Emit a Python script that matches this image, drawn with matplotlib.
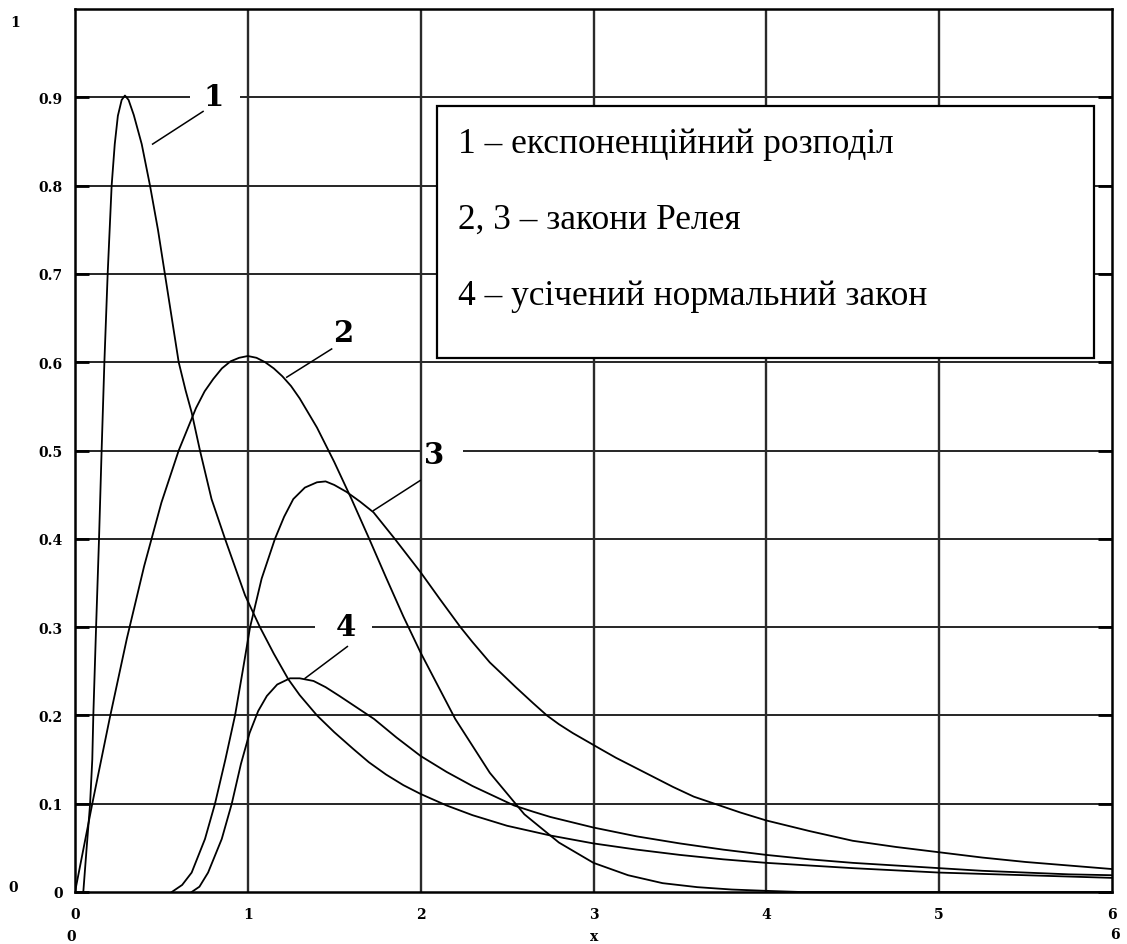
import matplotlib
matplotlib.use("Agg")
import matplotlib.pyplot as plt
from matplotlib.patches import Rectangle

# --- curve data -----------------------------------------------------------
# 1: exponential-type density
x1 = [0.048, 0.067, 0.087, 0.100, 0.106, 0.122, 0.139, 0.154, 0.170, 0.189,
      0.212, 0.230, 0.248, 0.270, 0.289, 0.310, 0.340, 0.386, 0.434, 0.480,
      0.520, 0.560, 0.600, 0.640, 0.675, 0.723, 0.790, 0.868, 0.984, 1.070,
      1.150, 1.234, 1.300, 1.400, 1.500, 1.610, 1.700, 1.800, 1.900, 2.000,
      2.150, 2.300, 2.500, 2.750, 3.000, 3.250, 3.500, 3.750, 4.000, 4.500,
      5.000, 5.500, 6.000]
y1 = [0.000, 0.049, 0.099, 0.150, 0.200, 0.300, 0.400, 0.500, 0.600, 0.700,
      0.800, 0.847, 0.879, 0.897, 0.902, 0.897, 0.880, 0.847, 0.800, 0.750,
      0.700, 0.650, 0.600, 0.568, 0.543, 0.500, 0.445, 0.400, 0.336, 0.300,
      0.270, 0.241, 0.223, 0.200, 0.181, 0.162, 0.147, 0.133, 0.121, 0.111,
      0.098, 0.087, 0.075, 0.064, 0.055, 0.048, 0.042, 0.037, 0.033, 0.027,
      0.022, 0.019, 0.016]

# 2: Rayleigh law
x2 = [0.0, 0.1, 0.2, 0.3, 0.4, 0.5, 0.6, 0.7, 0.75, 0.8, 0.85, 0.9, 0.95,
      1.0, 1.05, 1.1, 1.15, 1.2, 1.25, 1.3, 1.4, 1.5, 1.6, 1.7, 1.8, 1.9,
      2.0, 2.2, 2.4, 2.6, 2.8, 3.0, 3.2, 3.4, 3.6, 3.8, 4.0, 4.2, 6.0]
y2 = [0.000, 0.100, 0.196, 0.287, 0.369, 0.441, 0.500, 0.548, 0.567, 0.581,
      0.593, 0.601, 0.605, 0.607, 0.605, 0.600, 0.593, 0.584, 0.573, 0.559,
      0.526, 0.487, 0.445, 0.401, 0.356, 0.312, 0.271, 0.196, 0.135, 0.088,
      0.056, 0.033, 0.019, 0.010, 0.0055, 0.0028, 0.0013, 0.0, 0.0]

# 3: Rayleigh law (shifted)
x3 = [0.560, 0.620, 0.675, 0.752, 0.810, 0.870, 0.926, 0.970, 1.013, 1.080,
      1.157, 1.210, 1.263, 1.330, 1.400, 1.450, 1.500, 1.572, 1.650, 1.727,
      1.850, 2.000, 2.110, 2.230, 2.300, 2.400, 2.470, 2.550, 2.650, 2.730,
      2.800, 2.880, 2.960, 3.040, 3.130, 3.220, 3.340, 3.460, 3.580, 3.700,
      3.850, 4.000, 4.250, 4.500, 4.750, 5.000, 5.250, 5.500, 5.750, 6.000]
y3 = [0.000, 0.008, 0.022, 0.060, 0.100, 0.150, 0.200, 0.250, 0.300, 0.355,
      0.400, 0.425, 0.445, 0.458, 0.464, 0.465, 0.461, 0.453, 0.442, 0.430,
      0.400, 0.362, 0.332, 0.300, 0.283, 0.260, 0.247, 0.232, 0.214, 0.200,
      0.190, 0.180, 0.171, 0.162, 0.152, 0.143, 0.131, 0.119, 0.108, 0.100,
      0.090, 0.081, 0.069, 0.058, 0.051, 0.045, 0.039, 0.034, 0.030, 0.026]

# 4: truncated normal law
x4 = [0.675, 0.720, 0.770, 0.849, 0.907, 0.960, 1.010, 1.060, 1.110, 1.170,
      1.244, 1.300, 1.380, 1.450, 1.530, 1.630, 1.730, 1.860, 2.000, 2.150,
      2.300, 2.540, 2.650, 2.750, 3.000, 3.250, 3.500, 3.750, 4.000, 4.250,
      4.500, 4.750, 5.000, 5.250, 5.500, 5.750, 6.000]
y4 = [0.000, 0.006, 0.022, 0.060, 0.100, 0.145, 0.180, 0.205, 0.222, 0.235,
      0.242, 0.242, 0.239, 0.232, 0.222, 0.209, 0.196, 0.175, 0.154, 0.136,
      0.120, 0.098, 0.091, 0.085, 0.073, 0.063, 0.055, 0.048, 0.042, 0.037,
      0.033, 0.030, 0.027, 0.024, 0.022, 0.020, 0.019]

x_ticks = [0, 1, 2, 3, 4, 5, 6]
x_tick_labels = ["0", "1", "2", "3", "4", "5", "6"]
y_ticks = [0, 0.1, 0.2, 0.3, 0.4, 0.5, 0.6, 0.7, 0.8, 0.9]
y_tick_labels = ["0", "0.1", "0.2", "0.3", "0.4", "0.5", "0.6", "0.7", "0.8", "0.9"]

legend_lines = ["1 – експоненційний розподіл",
                "2, 3 – закони Релея",
                "4 – усічений нормальний закон"]

# curve number labels: text, position, leader line (from, to), gap in grid line
curve_labels = [
    ("1", (0.80, 0.901), ((0.741, 0.884), (0.449, 0.847)), (0.666, 0.955, 0.9)),
    ("2", (1.55, 0.634), ((1.485, 0.615), (1.225, 0.583)), None),
    ("3", (2.08, 0.496), ((1.997, 0.466), (1.727, 0.432)), (2.006, 2.245, 0.5)),
    ("4", (1.57, 0.301), ((1.576, 0.278), (1.331, 0.242)), (1.389, 1.719, 0.3)),
]

# --- figure ---------------------------------------------------------------
W, H = 1127, 945
fig = plt.figure(figsize=(W / 100, H / 100), dpi=100)
ax = fig.add_axes([75 / W, 52 / H, 1037 / W, 883 / H])
ax.set_xlim(0, 6)
ax.set_ylim(0, 1)

# grid
for yv in y_ticks[1:]:
    ax.axhline(yv, color="black", lw=1.2, zorder=1)
for xv in x_ticks[1:-1]:
    ax.axvline(xv, color="#2a2a2a", lw=1.7, zorder=2.5)

# gaps in the grid around the curve numbers
for _, _, _, gap in curve_labels:
    if gap is not None:
        g0, g1, gy = gap
        ax.add_patch(Rectangle((g0, gy - 0.006), g1 - g0, 0.012,
                               facecolor="white", edgecolor="none", zorder=2))

# curves
for xs, ys in [(x1, y1), (x2, y2), (x3, y3), (x4, y4)]:
    ax.plot(xs, ys, color="black", lw=1.3, zorder=3, solid_joinstyle="round")

# curve numbers and leader lines
for txt, (tx, ty), ((lx0, ly0), (lx1, ly1)), _ in curve_labels:
    ax.text(tx, ty, txt, ha="center", va="center", fontsize=21,
            family="DejaVu Serif", weight="bold", zorder=3.5)
    ax.plot([lx0, lx1], [ly0, ly1], color="black", lw=1.1, zorder=3)

# legend box
ax.add_patch(Rectangle((2.092, 0.6044), 3.802, 0.286, facecolor="white",
                       edgecolor="black", lw=1.6, zorder=4))
for line, yb in zip(legend_lines, [0.8384, 0.7528, 0.6659]):
    ax.text(2.216, yb, line, ha="left", va="baseline", fontsize=25.5,
            family="Liberation Serif", zorder=5)

# frame and ticks
for sp in ax.spines.values():
    sp.set_linewidth(1.8)
    sp.set_color("black")
    sp.set_zorder(6)

tick_font = dict(family="DejaVu Serif", weight="bold", size=10)
ax.set_xticks(x_ticks)
ax.set_xticklabels(x_tick_labels, **tick_font)
ax.set_yticks(y_ticks)
ax.set_yticklabels(y_tick_labels, **tick_font)
ax.tick_params(axis="x", length=0, pad=11)
ax.tick_params(axis="y", direction="in", length=10, width=2.0,
               left=True, right=True, pad=9)

# axis limit annotations
fig.text(15 / W, 1 - 23 / H, "1", ha="center", va="center", **tick_font)
fig.text(13 / W, 1 - 888 / H, "0", ha="center", va="center", **tick_font)
fig.text(71 / W, 1 - 937 / H, "0", ha="center", va="center", **tick_font)
fig.text(594 / W, 1 - 937 / H, "x", ha="center", va="center", **tick_font)
fig.text(1115 / W, 1 - 935 / H, "6", ha="center", va="center", **tick_font)

fig.savefig("out.png", dpi=100, facecolor="white")
